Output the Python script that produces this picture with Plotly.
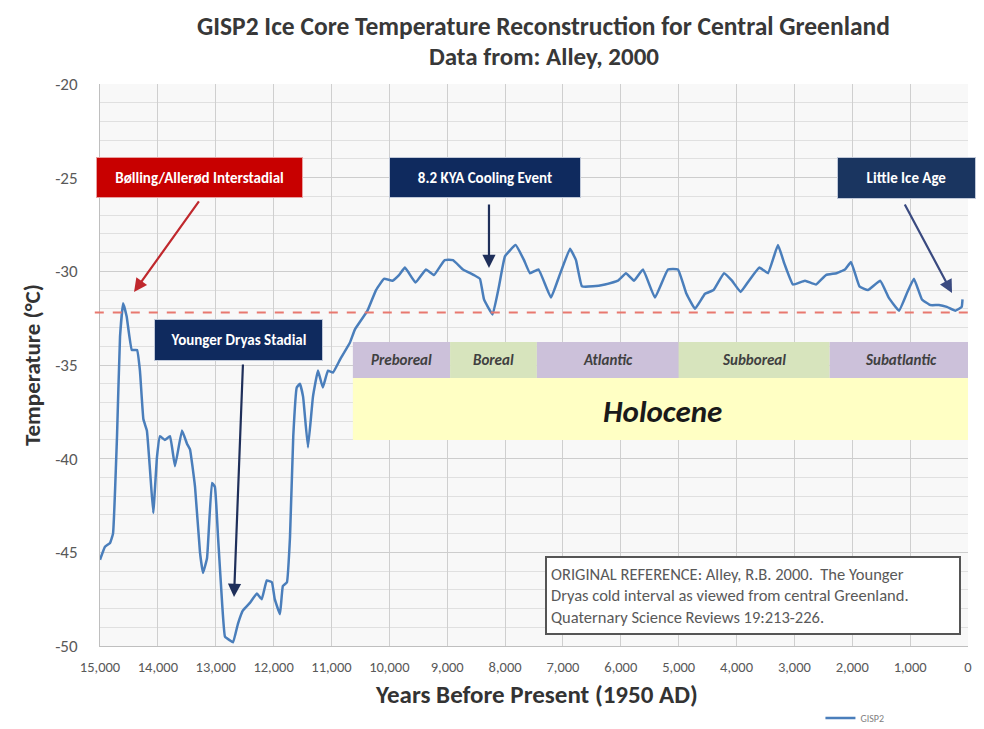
import plotly.graph_objects as go

# ---- data (years before present, temperature degC) ----
years = [15000, 14914, 14827, 14775, 14706, 14654, 14600, 14540, 14450, 14360,
         14310, 14250, 14190, 14136, 14080, 14015, 13963, 13880, 13790, 13704,
         13583, 13497, 13445, 13358, 13272, 13220, 13150, 13065, 13015, 12960,
         12890, 12840, 12755, 12700, 12615, 12530, 12410, 12290, 12205, 12118,
         12030, 11980, 11890, 11840, 11770, 11717, 11660, 11600, 11545, 11490,
         11406, 11320, 11233, 11150, 11060, 10974, 10850, 10680, 10594, 10378,
         10230, 10092, 9946, 9833, 9730, 9548, 9367, 9229, 9044, 8900,
         8727, 8537, 8434, 8364, 8216, 8105, 8002, 7818, 7673, 7570,
         7423, 7207, 7069, 6878, 6775, 6671, 6481, 6273, 6049, 5911,
         5772, 5617, 5410, 5185, 5012, 4865, 4718, 4545, 4397, 4217,
         4079, 3930, 3785, 3604, 3457, 3284, 3172, 3025, 2817, 2627,
         2455, 2272, 2126, 2022, 1876, 1729, 1517, 1370, 1193, 1047,
         934, 796, 650, 503, 365, 218, 109, 95]
temps = [-45.4, -44.7, -44.5, -44.0, -38.8, -33.5, -31.7, -32.4, -34.2, -34.2,
         -35.3, -37.9, -38.5, -40.6, -42.9, -39.9, -38.8, -39.0, -38.8, -40.4,
         -38.5, -39.2, -39.5, -41.5, -45.0, -46.1, -45.3, -41.3, -41.5, -44.2,
         -47.7, -49.5, -49.7, -49.8, -48.8, -48.1, -47.7, -47.2, -47.5, -46.5,
         -46.6, -47.5, -48.3, -46.8, -46.6, -44.2, -38.8, -36.2, -36.0, -36.7,
         -39.4, -36.7, -35.3, -36.2, -35.3, -35.4, -34.7, -33.8, -33.1, -32.1,
         -31.0, -30.4, -30.5, -30.2, -29.8, -30.6, -29.9, -30.2, -29.4, -29.4,
         -29.9, -30.2, -30.4, -31.5, -32.3, -30.8, -29.2, -28.6, -29.4, -30.1,
         -29.9, -31.4, -30.3, -28.8, -29.4, -30.8, -30.8, -30.7, -30.5, -30.1,
         -30.5, -29.9, -31.4, -29.9, -29.9, -31.2, -32.0, -31.2, -31.0, -30.1,
         -30.5, -31.1, -30.5, -29.8, -30.1, -28.6, -29.6, -30.7, -30.5, -30.7,
         -30.2, -30.1, -29.9, -29.5, -30.8, -31.0, -30.5, -31.4, -32.1, -31.1,
         -30.4, -31.5, -31.8, -31.8, -31.9, -32.1, -31.9, -31.5]

reference_temp = -32.2

period_names = ["Preboreal", "Boreal", "Atlantic", "Subboreal", "Subatlantic"]
period_start = [10630, 8950, 7450, 5000, 2390]
period_end = [8950, 7450, 5000, 2390, -70]
period_colors = ["#ccc1da", "#d7e4bd", "#ccc1da", "#d7e4bd", "#ccc1da"]

x_ticks = list(range(0, 15001, 1000))
y_ticks = list(range(-50, -19, 5))
y_tick_labels = ["-50", "-45", "-40", "-35", "-30", "-25", "-20"]

FONT = "Carlito, 'Liberation Sans Narrow', 'Open Sans', sans-serif"

fig = go.Figure()
fig.add_trace(go.Scatter(
    x=years, y=temps, mode="lines", name="GISP2",
    line=dict(color="#4a7ebb", width=2.5, shape="spline", smoothing=0.3),
))

shapes = []
shapes.append(dict(type="line", xref="paper", yref="y", x0=-0.006, x1=1.02,
                   y0=reference_temp, y1=reference_temp,
                   line=dict(color="#e8786f", width=2, dash="dash")))
for s, e, c in zip(period_start, period_end, period_colors):
    shapes.append(dict(type="rect", xref="x", yref="y", x0=s, x1=e,
                       y0=-33.77, y1=-35.69, fillcolor=c, line=dict(width=0),
                       layer="above"))
shapes.append(dict(type="rect", xref="x", yref="y", x0=period_start[0],
                   x1=period_end[-1], y0=-35.69, y1=-39.0,
                   fillcolor="#ffffc4", line=dict(width=0), layer="above"))

annotations = []
for n, s, e in zip(period_names, period_start, period_end):
    annotations.append(dict(x=(s + e) / 2, y=-34.73, xref="x", yref="y",
                            text="<b><i>" + n + "</i></b>", showarrow=False,
                            font=dict(family=FONT, size=15, color="#404040")))
annotations.append(dict(x=(period_start[0] + period_end[-1]) / 2, y=-37.46,
                        xref="x", yref="y", text="<b><i>Holocene</i></b>",
                        showarrow=False,
                        font=dict(family=FONT, size=31, color="#1a1a1a")))

boxes = [
    ("Bølling/Allerød Interstadial", 13281, -24.99, 205, 39, "#c80000", "#e8a0a0"),
    ("8.2 KYA Cooling Event", 8347, -25.0, 190, 39, "#0f2a5e", "#c0c8d8"),
    ("Little Ice Age", 1063, -25.02, 137, 40, "#1a3560", "#c0c8d8"),
    ("Younger Dryas Stadial", 12607, -33.67, 167, 40, "#0f2a5e", "#c0c8d8"),
]
for t, bx, by, w, h, c, bc in boxes:
    annotations.append(dict(x=bx, y=by, xref="x", yref="y", text="<b>" + t + "</b>",
                            showarrow=False, width=w - 2, height=h - 2,
                            bgcolor=c, bordercolor=bc,
                            borderwidth=1, align="center", valign="middle",
                            font=dict(family=FONT, size=15, color="#ffffff")))

arrows = [
    (14412, -31.1, 13272, -26.19, "#c0282d"),
    (8278, -29.82, 8278, -26.35, "#1f2f5a"),
    (276, -31.16, 1106, -26.35, "#3a4a80"),
    (12684, -47.38, 12529, -34.89, "#1f2f5a"),
]
for hx, hy, tx, ty, c in arrows:
    annotations.append(dict(x=hx, y=hy, ax=tx, ay=ty, xref="x", yref="y",
                            axref="x", ayref="y", text="", showarrow=True,
                            arrowhead=2, arrowsize=1.2, arrowwidth=2.2,
                            arrowcolor=c))

annotations.append(dict(x=3715, y=-47.31, xref="x", yref="y",
                        text="ORIGINAL REFERENCE: Alley, R.B. 2000.  The Younger<br>"
                             "Dryas cold interval as viewed from central Greenland.<br>"
                             "Quaternary Science Reviews 19:213-226.",
                        showarrow=False, width=404, height=67, align="left",
                        valign="middle", bgcolor="#ffffff", bordercolor="#555555",
                        borderwidth=2, borderpad=4,
                        font=dict(family=FONT, size=16.5, color="#595959")))

# title (two lines)
annotations.append(dict(x=0.5115, y=1.0 + (84 - 26) / 562, xref="paper", yref="paper",
                        text="<b>GISP2 Ice Core Temperature Reconstruction for Central Greenland</b>",
                        showarrow=False, xanchor="center", yanchor="middle",
                        font=dict(family=FONT, size=25.5, color="#383838")))
annotations.append(dict(x=0.5115, y=1.0 + (84 - 57) / 562, xref="paper", yref="paper",
                        text="<b>Data from: Alley, 2000</b>",
                        showarrow=False, xanchor="center", yanchor="middle",
                        font=dict(family=FONT, size=25, color="#383838")))
# x-axis title
annotations.append(dict(x=0.503, y=-(694 - 646) / 562, xref="paper", yref="paper",
                        text="<b>Years Before Present (1950 AD)</b>",
                        showarrow=False, xanchor="center", yanchor="middle",
                        font=dict(family=FONT, size=25, color="#333333")))

fig.update_layout(
    width=976, height=721,
    margin=dict(l=92, r=16, t=76, b=83, autoexpand=False),
    paper_bgcolor="#ffffff", plot_bgcolor="#f8f8f8",
    shapes=shapes,
    annotations=annotations,
    showlegend=True,
    legend=dict(x=0.83, y=-0.128, xanchor="left", yanchor="middle",
                bgcolor="rgba(0,0,0,0)",
                font=dict(family=FONT, size=10, color="#7f7f7f"),
                itemwidth=30),
    xaxis=dict(range=[15000, 0], tickvals=x_ticks, tickformat=",d",
               showgrid=True, gridcolor="#cfcfcf", gridwidth=1,
               showline=True, linecolor="#bfbfbf", zeroline=False,
               ticks="", ticklabelstandoff=8, automargin=False,
               tickfont=dict(family=FONT, size=14.5, color="#595959")),
    yaxis=dict(range=[-50, -20], tickvals=y_ticks, ticktext=y_tick_labels,
               showgrid=True, gridcolor="#cdcdcd", gridwidth=1,
               minor=dict(dtick=1, showgrid=True, gridcolor="#e0e0e0"),
               showline=True, linecolor="#bfbfbf", zeroline=False,
               ticks="", ticklabelstandoff=18, automargin=False,
               tickfont=dict(family=FONT, size=17, color="#595959"),
               title=dict(text="<b>Temperature (°C)</b>", standoff=8,
                          font=dict(family=FONT, size=23, color="#333333"))),
)

fig.write_html("out.html")
